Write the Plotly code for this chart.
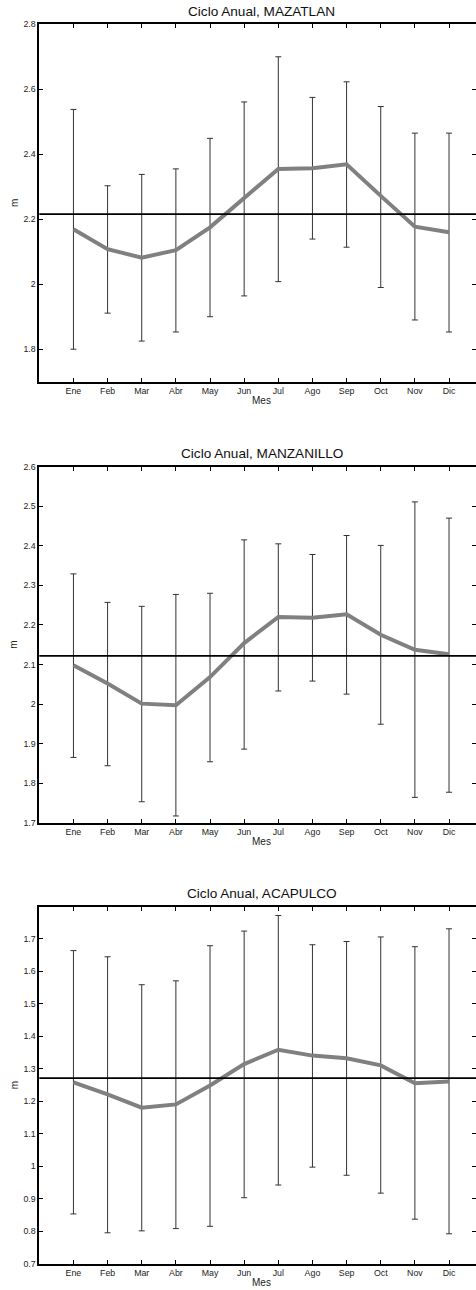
import plotly.graph_objects as go

W, H = 476, 1290

meses = ["Ene", "Feb", "Mar", "Abr", "May", "Jun", "Jul", "Ago", "Sep", "Oct", "Nov", "Dic"]
mes_num = list(range(1, 13))

# Mazatlan
maz_media = [2.169, 2.108, 2.082, 2.105, 2.175, 2.265, 2.355, 2.357, 2.369, 2.272, 2.177, 2.160]
maz_sup = [2.538, 2.303, 2.338, 2.355, 2.449, 2.561, 2.700, 2.575, 2.623, 2.547, 2.465, 2.465]
maz_inf = [1.800, 1.911, 1.825, 1.853, 1.900, 1.964, 2.008, 2.139, 2.114, 1.990, 1.890, 1.853]
maz_anual = 2.216

# Manzanillo
man_media = [2.098, 2.052, 2.001, 1.997, 2.068, 2.154, 2.220, 2.218, 2.227, 2.175, 2.137, 2.126]
man_sup = [2.329, 2.257, 2.247, 2.277, 2.280, 2.415, 2.405, 2.378, 2.426, 2.401, 2.511, 2.470]
man_inf = [1.865, 1.844, 1.753, 1.717, 1.854, 1.886, 2.033, 2.058, 2.025, 1.949, 1.764, 1.777]
man_anual = 2.122

# Acapulco
aca_media = [1.258, 1.221, 1.180, 1.190, 1.248, 1.314, 1.358, 1.340, 1.332, 1.310, 1.255, 1.260]
aca_sup = [1.663, 1.644, 1.558, 1.570, 1.678, 1.723, 1.771, 1.681, 1.691, 1.705, 1.675, 1.730]
aca_inf = [0.853, 0.795, 0.801, 0.808, 0.815, 0.903, 0.942, 0.997, 0.972, 0.917, 0.837, 0.792]
aca_anual = 1.271

paneles = [
    ("Ciclo Anual, MAZATLAN", maz_media, maz_sup, maz_inf, maz_anual,
     [1.7, 2.8], [1.8, 2.0, 2.2, 2.4, 2.6, 2.8], ["1.8", "2", "2.2", "2.4", "2.6", "2.8"], 24.3, 381.7),
    ("Ciclo Anual, MANZANILLO", man_media, man_sup, man_inf, man_anual,
     [1.7, 2.6], [1.7, 1.8, 1.9, 2.0, 2.1, 2.2, 2.3, 2.4, 2.5, 2.6],
     ["1.7", "1.8", "1.9", "2", "2.1", "2.2", "2.3", "2.4", "2.5", "2.6"], 466.7, 822.7),
    ("Ciclo Anual, ACAPULCO", aca_media, aca_sup, aca_inf, aca_anual,
     [0.7, 1.798], [0.7, 0.8, 0.9, 1.0, 1.1, 1.2, 1.3, 1.4, 1.5, 1.6, 1.7],
     ["0.7", "0.8", "0.9", "1", "1.1", "1.2", "1.3", "1.4", "1.5", "1.6", "1.7"], 906.7, 1263.7),
]

FONT = "Liberation Sans, Arial, sans-serif"
x_left = 39.3 / W

fig = go.Figure()
annotations = []
shapes = []

for i, (titulo, media, sup, inf, anual, yrange, yticks, ytext, top, bot) in enumerate(paneles, start=1):
    xa = "x" if i == 1 else f"x{i}"
    ya = "y" if i == 1 else f"y{i}"
    err_up = [s - m for s, m in zip(sup, media)]
    err_dn = [m - v for m, v in zip(media, inf)]

    # barras de error (desviacion) debajo de la curva media
    fig.add_trace(go.Scatter(
        x=mes_num, y=media, mode="markers", xaxis=xa, yaxis=ya,
        marker=dict(size=1, opacity=0),
        error_y=dict(type="data", array=err_up, arrayminus=err_dn,
                     color="#333333", thickness=1, width=3),
        showlegend=False, hoverinfo="skip",
    ))
    fig.add_trace(go.Scatter(
        x=mes_num, y=media, mode="lines", xaxis=xa, yaxis=ya,
        line=dict(color="#808080", width=4), showlegend=False,
    ))
    shapes.append(dict(type="line", xref=f"{xa} domain", yref=ya, x0=0, x1=1,
                       y0=anual, y1=anual, line=dict(color="black", width=1.8)))

    dom = [1 - bot / H, 1 - top / H]
    ax_common = dict(showline=True, linecolor="black", linewidth=1.8, mirror="ticks",
                     ticks="inside", ticklen=4, tickwidth=1, tickcolor="black",
                     showgrid=False, zeroline=False, automargin=False,
                     tickfont=dict(family=FONT, size=8.8, color="#222"))
    fig.layout[f"xaxis{'' if i == 1 else i}"] = dict(
        ax_common, domain=[x_left, 1], range=[0, 12.79], anchor=ya,
        tickvals=mes_num, ticktext=meses,
    )
    fig.layout[f"yaxis{'' if i == 1 else i}"] = dict(
        ax_common, domain=dom, range=yrange, anchor=xa,
        tickvals=yticks, ticktext=ytext,
    )

    txt = dict(xref="paper", yref="paper", showarrow=False, xanchor="center", yanchor="middle")
    annotations.append(dict(txt, text=titulo, x=261.5 / W, y=1 - (top - 13) / H,
                            font=dict(family=FONT, size=13.6, color="#111")))
    annotations.append(dict(txt, text="Mes", x=261.7 / W, y=1 - (bot + 19) / H,
                            font=dict(family=FONT, size=10, color="#222")))
    annotations.append(dict(txt, text="m", x=14 / W, y=1 - ((top + bot) / 2) / H, textangle=-90,
                            font=dict(family=FONT, size=10, color="#222")))

fig.update_layout(
    width=W, height=H,
    margin=dict(l=0, r=0, t=0, b=0, pad=0, autoexpand=False),
    paper_bgcolor="white", plot_bgcolor="white",
    annotations=annotations, shapes=shapes,
)

fig.write_html("out.html", config={"displayModeBar": False},
               post_script="document.body.style.margin='0px';")
